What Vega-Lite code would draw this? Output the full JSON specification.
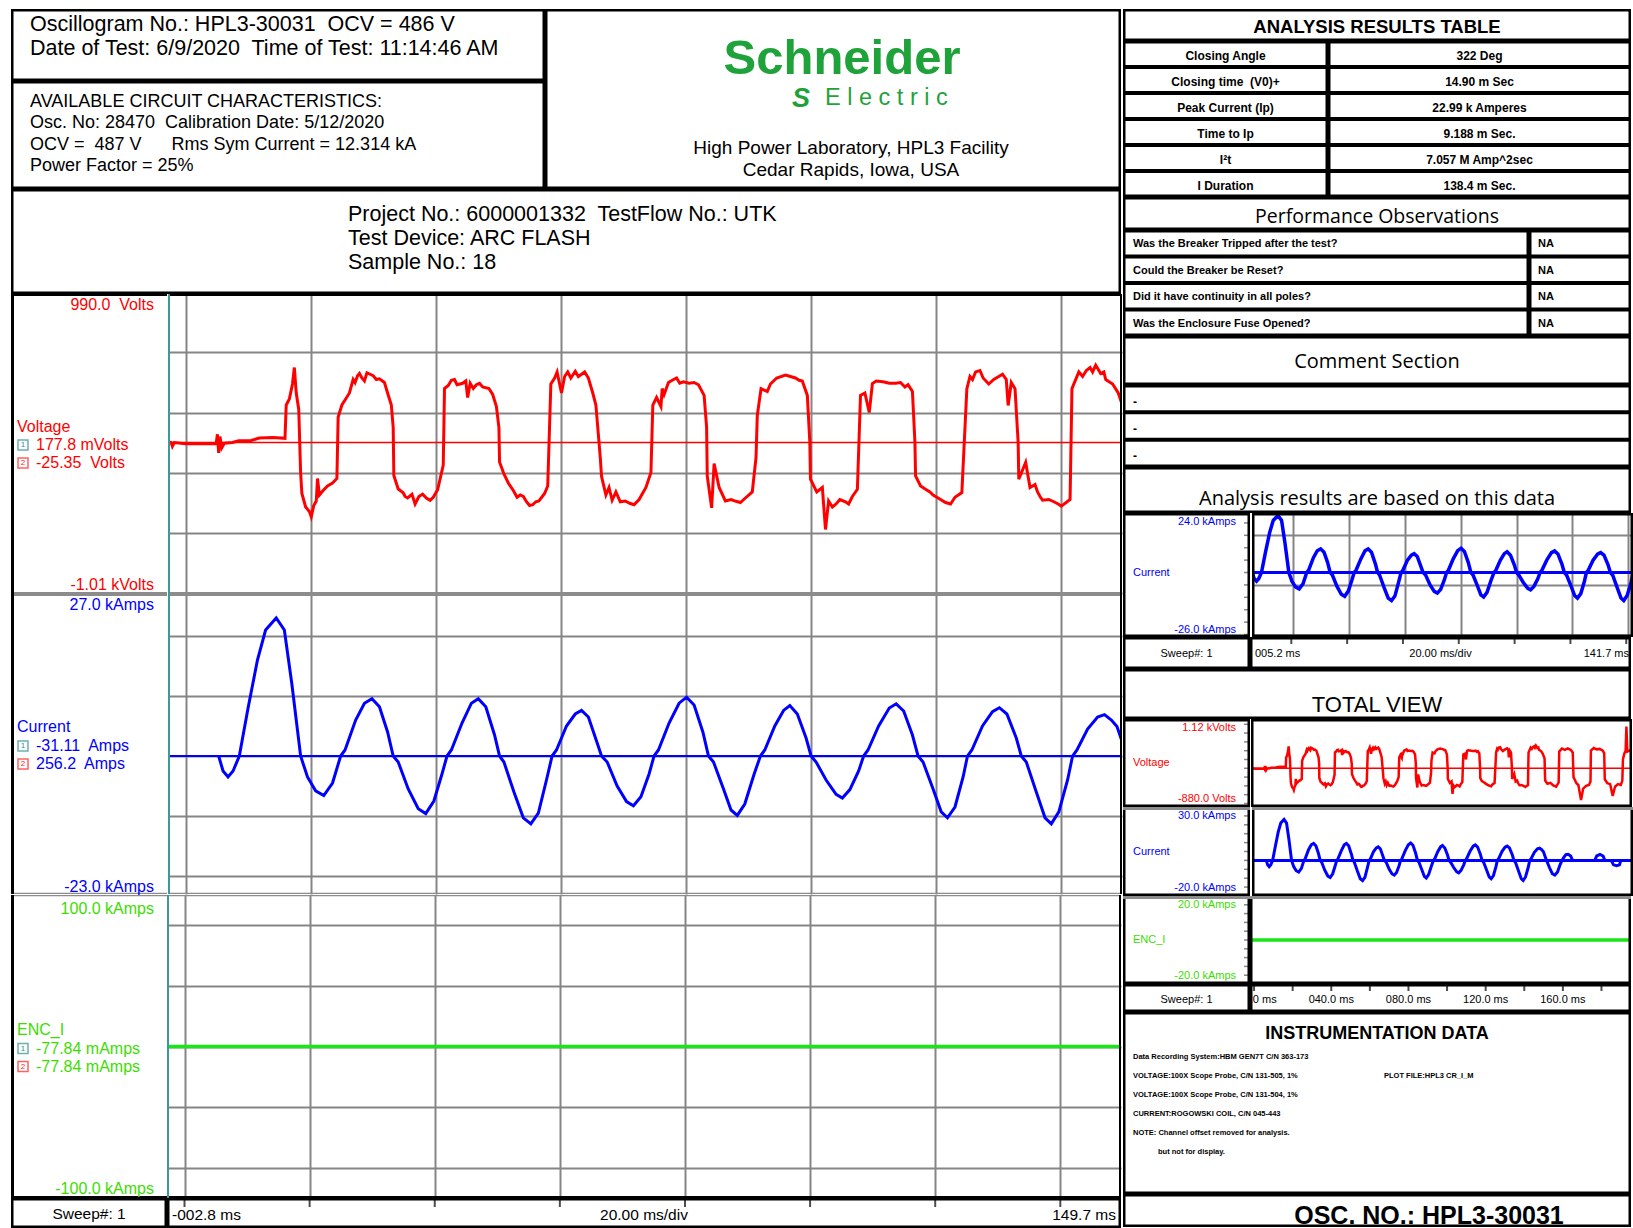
{
"$schema": "https://vega.github.io/schema/vega-lite/v6.json",
"background": "white",
"padding": {"left": 11, "top": 9, "right": 0, "bottom": 0},
"spacing": 0,
"config": {
  "view": {"stroke": null},
  "font": "Liberation Sans",
  "text": {"font": "Liberation Sans", "color": "black"}
},
"datasets": {
  "volt": [
    {"t":-2.8,"v":5},{"t":-2.3,"v":0},{"t":-2.1,"v":-25},{"t":-1.8,"v":0},{"t":0,"v":-8},{"t":2.5,"v":-8},{"t":4.9,"v":-8},{"t":5.1,"v":55},{"t":5.3,"v":-70},{"t":5.5,"v":40},{"t":5.8,"v":-35},{"t":6.2,"v":-5},{"t":7.5,"v":0},{"t":8.5,"v":12},{"t":10.5,"v":14},{"t":11.8,"v":30},{"t":14,"v":34},{"t":15.9,"v":28},{"t":16.1,"v":250},{"t":16.6,"v":290},{"t":17.1,"v":390},{"t":17.4,"v":500},{"t":17.7,"v":330},{"t":18.1,"v":220},{"t":18.4,"v":-200},{"t":18.6,"v":-340},{"t":19.2,"v":-430},{"t":19.8,"v":-460},{"t":20.1,"v":-495},{"t":20.5,"v":-420},{"t":20.9,"v":-390},{"t":21.1,"v":-240},{"t":21.4,"v":-350},{"t":22,"v":-320},{"t":22.7,"v":-290},{"t":23.5,"v":-270},{"t":24.2,"v":-240},{"t":24.4,"v":170},{"t":25,"v":250},{"t":25.6,"v":290},{"t":26.2,"v":330},{"t":26.8,"v":420},{"t":27.5,"v":445},{"t":28.2,"v":430},{"t":29,"v":465},{"t":30,"v":445},{"t":31,"v":425},{"t":31.8,"v":400},{"t":32.3,"v":330},{"t":32.9,"v":250},{"t":33.2,"v":100},{"t":33.3,"v":-220},{"t":34,"v":-310},{"t":34.8,"v":-335},{"t":35.5,"v":-370},{"t":36.2,"v":-345},{"t":36.7,"v":-410},{"t":37.3,"v":-360},{"t":38.5,"v":-370},{"t":39.6,"v":-365},{"t":40.3,"v":-315},{"t":41.2,"v":-150},{"t":41.4,"v":360},{"t":42.5,"v":415},{"t":43.4,"v":385},{"t":44.3,"v":395},{"t":45.1,"v":300},{"t":45.5,"v":395},{"t":46.5,"v":385},{"t":47.5,"v":370},{"t":48.5,"v":360},{"t":49.1,"v":320},{"t":49.7,"v":240},{"t":50.1,"v":100},{"t":50.2,"v":-130},{"t":50.9,"v":-210},{"t":51.6,"v":-270},{"t":52.4,"v":-320},{"t":53.5,"v":-350},{"t":54.5,"v":-395},{"t":55.5,"v":-415},{"t":56.5,"v":-390},{"t":57.4,"v":-340},{"t":57.9,"v":-290},{"t":58.4,"v":390},{"t":59.4,"v":470},{"t":60.1,"v":330},{"t":60.6,"v":440},{"t":61.6,"v":430},{"t":62.3,"v":475},{"t":63.3,"v":455},{"t":64.4,"v":430},{"t":65.1,"v":330},{"t":65.6,"v":250},{"t":66.3,"v":-100},{"t":66.5,"v":-225},{"t":67.2,"v":-350},{"t":67.7,"v":-300},{"t":68.2,"v":-385},{"t":68.8,"v":-330},{"t":69.5,"v":-395},{"t":71,"v":-405},{"t":72.5,"v":-380},{"t":73.6,"v":-300},{"t":74.4,"v":-200},{"t":74.7,"v":250},{"t":75.3,"v":300},{"t":76,"v":240},{"t":76.5,"v":320},{"t":77.8,"v":415},{"t":79,"v":395},{"t":80.5,"v":395},{"t":82,"v":385},{"t":82.9,"v":314},{"t":83.3,"v":100},{"t":83.4,"v":-223},{"t":84.1,"v":-436},{"t":84.5,"v":-140},{"t":85.3,"v":-300},{"t":86.3,"v":-390},{"t":88,"v":-392},{"t":89.5,"v":-370},{"t":90.6,"v":-330},{"t":91.2,"v":-100},{"t":91.4,"v":180},{"t":92,"v":359},{"t":93.5,"v":390},{"t":95.9,"v":450},{"t":97.5,"v":430},{"t":98.6,"v":410},{"t":99.4,"v":314},{"t":99.8,"v":0},{"t":99.9,"v":-245},{"t":100.9,"v":-330},{"t":101.8,"v":-300},{"t":102.3,"v":-580},{"t":102.8,"v":-390},{"t":104,"v":-410},{"t":105.5,"v":-395},{"t":106.6,"v":-360},{"t":107.4,"v":-312},{"t":107.9,"v":314},{"t":108.6,"v":330},{"t":109.3,"v":200},{"t":109.8,"v":393},{"t":111.5,"v":405},{"t":113.5,"v":395},{"t":115.5,"v":385},{"t":116.2,"v":340},{"t":116.6,"v":0},{"t":116.7,"v":-223},{"t":117.5,"v":-290},{"t":118.3,"v":-312},{"t":119.5,"v":-350},{"t":121.5,"v":-400},{"t":123,"v":-365},{"t":124.1,"v":-334},{"t":124.9,"v":359},{"t":125.8,"v":420},{"t":126.3,"v":471},{"t":127.5,"v":430},{"t":128.4,"v":390},{"t":130,"v":440},{"t":131.2,"v":420},{"t":131.5,"v":247},{"t":132,"v":400},{"t":132.6,"v":359},{"t":133.1,"v":0},{"t":133.2,"v":-245},{"t":134.3,"v":-133},{"t":135,"v":-300},{"t":135.8,"v":-280},{"t":136.6,"v":-360},{"t":138,"v":-380},{"t":139.5,"v":-410},{"t":140,"v":-424},{"t":141.4,"v":-380},{"t":141.7,"v":359},{"t":142.8,"v":471},{"t":144,"v":480},{"t":145.5,"v":515},{"t":146.3,"v":460},{"t":147.1,"v":420},{"t":148.2,"v":390},{"t":149.1,"v":330},{"t":150,"v":220},{"t":150.3,"v":-280},{"t":151.5,"v":-350},{"t":153,"v":-330},{"t":154.5,"v":-390},{"t":156,"v":-420},{"t":157.3,"v":-320},{"t":157.6,"v":380},{"t":159,"v":450},{"t":160.5,"v":420},{"t":162,"v":450},{"t":163.5,"v":420},{"t":164.6,"v":360},{"t":165,"v":-200},{"t":166.5,"v":-340},{"t":167.5,"v":-380},{"t":168.9,"v":-720},{"t":170,"v":-460},{"t":171.5,"v":-400},{"t":173,"v":-380},{"t":173.8,"v":-300},{"t":174,"v":400},{"t":175.5,"v":460},{"t":177,"v":430},{"t":178.5,"v":440},{"t":180.2,"v":400},{"t":180.9,"v":340},{"t":181.2,"v":-250},{"t":182.5,"v":-340},{"t":184,"v":-360},{"t":185.3,"v":-630},{"t":186.5,"v":-420},{"t":188,"v":-360},{"t":189.5,"v":-380},{"t":190.3,"v":-280},{"t":190.6,"v":200},{"t":191.3,"v":330},{"t":192,"v":400},{"t":192.4,"v":950},{"t":192.9,"v":380},{"t":194,"v":400},{"t":195.3,"v":420},
    {"t":27.1,"v":400},{"t":27.8,"v":460},{"t":28.6,"v":410},{"t":29.5,"v":455},{"t":30.5,"v":420},
    {"t":42.0,"v":380},{"t":43.0,"v":420},{"t":44.8,"v":410},{"t":46,"v":360},{"t":47,"v":395},
    {"t":59.0,"v":430},{"t":61.1,"v":470},{"t":62.8,"v":440},{"t":63.8,"v":470},
    {"t":76.2,"v":360},{"t":77.2,"v":400},{"t":78.5,"v":430},{"t":79.6,"v":405},{"t":81.3,"v":400},
    {"t":93,"v":340},{"t":94.5,"v":430},{"t":96.7,"v":440},{"t":98.1,"v":415},
    {"t":110.4,"v":410},{"t":112.5,"v":395},{"t":114.3,"v":400},{"t":115,"v":370},
    {"t":125.4,"v":440},{"t":127,"v":480},{"t":129.2,"v":420},{"t":130.6,"v":455},
    {"t":143.4,"v":440},{"t":144.6,"v":500},{"t":145,"v":470},{"t":146.8,"v":470},
    {"t":35.1,"v":-360},{"t":37.9,"v":-345},{"t":39.1,"v":-385},
    {"t":53,"v":-365},{"t":54,"v":-360},{"t":55,"v":-420},{"t":56,"v":-395},
    {"t":70.3,"v":-390},{"t":71.7,"v":-415},
    {"t":87.2,"v":-380},{"t":88.7,"v":-400},
    {"t":103.4,"v":-430},{"t":104.6,"v":-380},{"t":106,"v":-410},
    {"t":119,"v":-330},{"t":120.3,"v":-370},{"t":122.3,"v":-410},
    {"t":136.2,"v":-330},{"t":137,"v":-385},{"t":138.8,"v":-395}
  ],
  "curr": [
    {"t":5.3,"i":0},{"t":6.0,"i":-2.5},{"t":6.8,"i":-3.5},{"t":7.6,"i":-2.5},{"t":8.6,"i":0},{"t":10.0,"i":8},{"t":11.5,"i":16},{"t":12.8,"i":21},{"t":14.5,"i":23.0},{"t":15.8,"i":21},{"t":17.0,"i":12},{"t":18.4,"i":0},{"t":19.5,"i":-3.5},{"t":20.8,"i":-5.8},{"t":22.1,"i":-6.6},{"t":23.5,"i":-4.5},{"t":24.8,"i":0},{"t":25.5,"i":1},{"t":27.2,"i":6},{"t":28.6,"i":8.8},{"t":29.8,"i":9.55},{"t":31.0,"i":8.2},{"t":32.3,"i":4},{"t":33.2,"i":0},{"t":34.0,"i":-1},{"t":35.6,"i":-5.5},{"t":37.2,"i":-8.8},{"t":38.4,"i":-9.6},{"t":39.7,"i":-7.5},{"t":41.0,"i":-3},{"t":41.8,"i":0},{"t":42.5,"i":1},{"t":44.2,"i":5.5},{"t":45.7,"i":8.8},{"t":46.8,"i":9.55},{"t":48.0,"i":8.2},{"t":49.4,"i":3.5},{"t":50.2,"i":0},{"t":50.9,"i":-1},{"t":52.5,"i":-6},{"t":54.0,"i":-10.3},{"t":55.2,"i":-11.3},{"t":56.4,"i":-9.5},{"t":57.7,"i":-4},{"t":58.6,"i":0},{"t":59.3,"i":1},{"t":60.9,"i":5},{"t":62.3,"i":7},{"t":63.3,"i":7.6},{"t":64.4,"i":6.5},{"t":65.7,"i":2.5},{"t":66.5,"i":0},{"t":67.4,"i":-1},{"t":69.0,"i":-5},{"t":70.5,"i":-7.6},{"t":71.6,"i":-8.3},{"t":72.8,"i":-6.8},{"t":74.1,"i":-3},{"t":74.9,"i":0},{"t":75.6,"i":1},{"t":77.3,"i":5.5},{"t":78.9,"i":8.8},{"t":80.1,"i":9.8},{"t":81.3,"i":8.5},{"t":82.7,"i":4},{"t":83.6,"i":0},{"t":84.4,"i":-1},{"t":86.0,"i":-5.5},{"t":87.2,"i":-9},{"t":88.2,"i":-9.9},{"t":89.4,"i":-8},{"t":90.9,"i":-3},{"t":91.9,"i":0},{"t":92.6,"i":1},{"t":94.2,"i":5},{"t":95.6,"i":7.6},{"t":96.6,"i":8.4},{"t":97.8,"i":7},{"t":99.2,"i":3},{"t":100.0,"i":0},{"t":100.8,"i":-1},{"t":102.4,"i":-4},{"t":104.0,"i":-6.4},{"t":105.0,"i":-7.0},{"t":106.2,"i":-5.6},{"t":107.6,"i":-2.5},{"t":108.4,"i":0},{"t":109.1,"i":1},{"t":110.8,"i":5},{"t":112.5,"i":8},{"t":113.6,"i":8.7},{"t":114.8,"i":7.5},{"t":116.2,"i":3.5},{"t":117.1,"i":0},{"t":117.9,"i":-1},{"t":119.5,"i":-5.5},{"t":120.8,"i":-9.3},{"t":121.8,"i":-10.3},{"t":123.0,"i":-8.5},{"t":124.3,"i":-3.5},{"t":125.0,"i":0},{"t":125.7,"i":1},{"t":127.4,"i":5},{"t":129.0,"i":7.4},{"t":130.1,"i":8.05},{"t":131.3,"i":7},{"t":132.8,"i":3},{"t":133.6,"i":0},{"t":134.4,"i":-1},{"t":136.0,"i":-6},{"t":137.4,"i":-10.3},{"t":138.4,"i":-11.3},{"t":139.6,"i":-9.3},{"t":141.0,"i":-4},{"t":141.8,"i":0},{"t":142.5,"i":1},{"t":144.2,"i":4.5},{"t":145.8,"i":6.5},{"t":146.9,"i":6.9},{"t":148.0,"i":6},{"t":148.9,"i":4.9},{"t":150.5,"i":0},{"t":152,"i":-4},{"t":153.5,"i":-7.5},{"t":154.8,"i":-8.3},{"t":156.2,"i":-6.5},{"t":157.5,"i":-2.5},{"t":158.5,"i":0},{"t":159.3,"i":1.5},{"t":160.5,"i":3.2},{"t":161.7,"i":3.4},{"t":163,"i":2.5},{"t":164,"i":0},{"t":175.5,"i":0},{"t":176.5,"i":2.5},{"t":178.2,"i":3.4},{"t":179.8,"i":2.5},{"t":180.7,"i":0},{"t":184,"i":0},{"t":185.2,"i":-2.5},{"t":186.8,"i":-3},{"t":188.3,"i":-2.5},{"t":189,"i":0},{"t":195.3,"i":0}
  ],
  "enc": [{"t":-2.8,"i":-0.00008},{"t":195.3,"i":-0.00008}],
  "results": [
    {"r":1,"k":"Closing Angle","v":"322 Deg"},
    {"r":2,"k":"Closing time\u00a0 (V0)+","v":"14.90 m Sec"},
    {"r":3,"k":"Peak Current (Ip)","v":"22.99 k Amperes"},
    {"r":4,"k":"Time to Ip","v":"9.188 m Sec."},
    {"r":5,"k":"I²t","v":"7.057 M Amp^2sec"},
    {"r":6,"k":"I Duration","v":"138.4 m Sec."}
  ],
  "questions": [
    {"r":1,"q":"Was the Breaker Tripped after the test?","a":"NA"},
    {"r":2,"q":"Could the Breaker be Reset?","a":"NA"},
    {"r":3,"q":"Did it have continuity in all poles?","a":"NA"},
    {"r":4,"q":"Was the Enclosure Fuse Opened?","a":"NA"}
  ],
  "comments": [{"r":1,"c":"-"},{"r":2,"c":"-"},{"r":3,"c":"-"}]
},
"hconcat": [
 {"vconcat": [
   {"hconcat": [
     {"vconcat": [
       {"width": 534, "height": 72,
        "layer": [
          {"data": {"values": [{}]}, "mark": {"type": "rect", "filled": false, "stroke": "black", "strokeWidth": 5, "clip": true}, "encoding": {"x": {"value": 0}, "x2": {"value": "width"}, "y": {"value": 0}, "y2": {"value": "height"}}},
          {"data": {"values": [{"line": 1, "t": "Oscillogram No.: HPL3-30031\u00a0 OCV = 486 V"}, {"line": 2, "t": "Date of Test: 6/9/2020\u00a0 Time of Test: 11:14:46 AM"}]},
           "mark": {"type": "text", "align": "left", "baseline": "middle", "fontSize": 21.5},
           "encoding": {"x": {"value": 19}, "y": {"field": "line", "type": "ordinal", "scale": {"type": "point", "range": [16, 40], "padding": 0}, "axis": null}, "text": {"field": "t"}}}
        ]},
       {"width": 534, "height": 108,
        "layer": [
          {"data": {"values": [{}]}, "mark": {"type": "rect", "filled": false, "stroke": "black", "strokeWidth": 5, "clip": true}, "encoding": {"x": {"value": 0}, "x2": {"value": "width"}, "y": {"value": 0}, "y2": {"value": "height"}}},
          {"data": {"values": [{"line": 1, "t": "AVAILABLE CIRCUIT CHARACTERISTICS:"}, {"line": 2, "t": "Osc. No: 28470\u00a0 Calibration Date: 5/12/2020"}, {"line": 3, "t": "OCV =\u00a0 487 V\u00a0\u00a0\u00a0\u00a0\u00a0 Rms Sym Current = 12.314 kA"}, {"line": 4, "t": "Power Factor = 25%"}]},
           "mark": {"type": "text", "align": "left", "baseline": "middle", "fontSize": 18},
           "encoding": {"x": {"value": 19}, "y": {"field": "line", "type": "ordinal", "scale": {"type": "point", "range": [21, 85], "padding": 0}, "axis": null}, "text": {"field": "t"}}}
        ]}
     ], "spacing": 0},
     {"width": 576, "height": 180,
      "layer": [
        {"data": {"values": [{}]}, "mark": {"type": "rect", "filled": false, "stroke": "black", "strokeWidth": 5, "clip": true}, "encoding": {"x": {"value": 0}, "x2": {"value": "width"}, "y": {"value": 0}, "y2": {"value": "height"}}},
        {"data": {"values": [{"t": "Schneider"}]}, "mark": {"type": "text", "fontSize": 49, "fontWeight": "bold", "color": "#1fa23a", "baseline": "middle"}, "encoding": {"x": {"value": 297}, "y": {"value": 50}, "text": {"field": "t"}}},
        {"data": {"values": [{"t": "S"}]}, "mark": {"type": "text", "fontSize": 27, "fontWeight": "bold", "fontStyle": "italic", "color": "#1fa23a", "baseline": "middle"}, "encoding": {"x": {"value": 256}, "y": {"value": 90}, "text": {"field": "t"}}},
        {"data": {"values": [{"t": "E l e c t r i c"}]}, "mark": {"type": "text", "fontSize": 23.5, "color": "#1fa23a", "align": "left", "baseline": "middle"}, "encoding": {"x": {"value": 280}, "y": {"value": 89}, "text": {"field": "t"}}},
        {"data": {"values": [{"line": 1, "t": "High Power Laboratory, HPL3 Facility"}, {"line": 2, "t": "Cedar Rapids, Iowa, USA"}]}, "mark": {"type": "text", "fontSize": 19, "baseline": "middle"}, "encoding": {"x": {"value": 306}, "y": {"field": "line", "type": "ordinal", "scale": {"type": "point", "range": [139, 161], "padding": 0}, "axis": null}, "text": {"field": "t"}}}
      ]}
   ], "spacing": 0},
   {"width": 1110, "height": 105,
    "layer": [
      {"data": {"values": [{}]}, "mark": {"type": "rect", "filled": false, "stroke": "black", "strokeWidth": 5, "clip": true}, "encoding": {"x": {"value": 0}, "x2": {"value": "width"}, "y": {"value": 0}, "y2": {"value": "height"}}},
      {"data": {"values": [{"line": 1, "t": "Project No.: 6000001332\u00a0 TestFlow No.: UTK"}, {"line": 2, "t": "Test Device: ARC FLASH"}, {"line": 3, "t": "Sample No.: 18"}]},
       "mark": {"type": "text", "align": "left", "baseline": "middle", "fontSize": 21.5},
       "encoding": {"x": {"value": 337}, "y": {"field": "line", "type": "ordinal", "scale": {"type": "point", "range": [25.5, 73.5], "padding": 0}, "axis": null}, "text": {"field": "t"}}}
    ]},
   {"hconcat": [
     {"width": 156, "height": 300,
      "data": {"values": [{"top": "990.0\u00a0 Volts", "bot": "-1.01 kVolts", "name": "Voltage", "m1": "177.8 mVolts", "m2": "-25.35\u00a0 Volts"}]},
      "layer": [
        {"mark": {"type": "rule", "color": "#8c8c8c", "strokeWidth": 4, "clip": true}, "encoding": {"y": {"datum": -1010, "type": "quantitative", "scale": {"domain": [-1010, 990], "nice": false, "zero": false}, "axis": null}}},
        {"mark": {"type": "rule", "color": "black", "strokeWidth": 4, "clip": true}, "encoding": {"y": {"datum": 990}}},
        {"mark": {"type": "rule", "color": "black", "strokeWidth": 6, "clip": true}, "encoding": {"x": {"value": 0}, "y": {"value": 0}, "y2": {"value": "height"}}},
        {"mark": {"type": "text", "align": "right", "baseline": "top", "dy": 3, "fontSize": 16, "color": "#ff0000"}, "encoding": {"x": {"value": 143}, "y": {"datum": 990}, "text": {"field": "top"}}},
        {"mark": {"type": "text", "align": "right", "baseline": "bottom", "dy": -1, "fontSize": 16, "color": "#ff0000"}, "encoding": {"x": {"value": 143}, "y": {"datum": -1010}, "text": {"field": "bot"}}},
        {"mark": {"type": "text", "align": "left", "baseline": "middle", "dy": -17, "fontSize": 16, "color": "#ff0000"}, "encoding": {"x": {"value": 6}, "y": {"datum": -10}, "text": {"field": "name"}}},
        {"mark": {"type": "text", "align": "left", "baseline": "middle", "dy": 1, "fontSize": 16, "color": "#ff0000"}, "encoding": {"x": {"value": 25}, "y": {"datum": -10}, "text": {"field": "m1"}}},
        {"mark": {"type": "text", "align": "left", "baseline": "middle", "dy": 19, "fontSize": 16, "color": "#ff0000"}, "encoding": {"x": {"value": 25}, "y": {"datum": -10}, "text": {"field": "m2"}}},
        {"mark": {"type": "point", "shape": "square", "filled": false, "size": 100, "strokeWidth": 1.5, "color": "#2f8f8f", "yOffset": 1}, "encoding": {"x": {"value": 12}, "y": {"datum": -10}}},
        {"mark": {"type": "point", "shape": "square", "filled": false, "size": 100, "strokeWidth": 1.5, "color": "#ff2020", "yOffset": 19}, "encoding": {"x": {"value": 12}, "y": {"datum": -10}}},
        {"mark": {"type": "text", "fontSize": 8, "color": "#2f8f8f", "baseline": "middle", "yOffset": 1}, "encoding": {"x": {"value": 12}, "y": {"datum": -10}, "text": {"value": "1"}}},
        {"mark": {"type": "text", "fontSize": 8, "color": "#ff2020", "baseline": "middle", "yOffset": 19}, "encoding": {"x": {"value": 12}, "y": {"datum": -10}, "text": {"value": "2"}}}
      ]},
     {"width": 954, "height": 300,
      "layer": [
        {"data": {"name": "volt"}, "mark": {"type": "line", "color": "#ff0000", "strokeWidth": 3, "clip": true},
         "encoding": {
           "x": {"field": "t", "type": "quantitative", "scale": {"domain": [-2.8, 149.7], "nice": false, "zero": false}, "axis": {"values": [0,20,40,60,80,100,120,140], "grid": true, "gridColor": "#858585", "gridWidth": 2, "labels": false, "ticks": false, "domain": false, "title": null}},
           "y": {"field": "v", "type": "quantitative", "scale": {"domain": [-1010, 990], "nice": false, "zero": false}, "axis": {"values": [-1000,-800,-600,-400,-200,0,200,400,600,800], "grid": true, "gridColor": "#858585", "gridWidth": 2, "labels": false, "ticks": false, "domain": false, "title": null}}}},
        {"data": {"values": [{}]}, "mark": {"type": "rule", "color": "#ff0000", "strokeWidth": 1.5}, "encoding": {"y": {"datum": 0}}},
        {"data": {"values": [{}]}, "mark": {"type": "rule", "color": "#8c8c8c", "strokeWidth": 4, "clip": true}, "encoding": {"y": {"datum": -1010}}},
        {"data": {"values": [{}]}, "mark": {"type": "rule", "color": "black", "strokeWidth": 4, "clip": true}, "encoding": {"y": {"datum": 990}}},
        {"data": {"values": [{}]}, "mark": {"type": "rule", "color": "#3a9a9a", "strokeWidth": 4, "clip": true}, "encoding": {"x": {"value": 0}, "y": {"value": 0}, "y2": {"value": "height"}}},
        {"data": {"values": [{}]}, "mark": {"type": "rule", "color": "black", "strokeWidth": 4, "clip": true}, "encoding": {"x": {"value": "width"}, "y": {"value": 0}, "y2": {"value": "height"}}}
      ]}
   ], "spacing": 0},
   {"hconcat": [
     {"width": 156, "height": 300,
      "data": {"values": [{"top": "27.0 kAmps", "bot": "-23.0 kAmps", "name": "Current", "m1": "-31.11\u00a0 Amps", "m2": "256.2\u00a0 Amps"}]},
      "layer": [
        {"mark": {"type": "rule", "color": "#8c8c8c", "strokeWidth": 4, "clip": true}, "encoding": {"y": {"datum": 27, "type": "quantitative", "scale": {"domain": [-23, 27], "nice": false, "zero": false}, "axis": null}}},
        {"mark": {"type": "rule", "color": "#8c8c8c", "strokeWidth": 2.5, "clip": true}, "encoding": {"y": {"datum": -23}}},
        {"mark": {"type": "rule", "color": "black", "strokeWidth": 6, "clip": true}, "encoding": {"x": {"value": 0}, "y": {"value": 0}, "y2": {"value": "height"}}},
        {"mark": {"type": "text", "align": "right", "baseline": "top", "dy": 3, "fontSize": 16, "color": "#0000ff"}, "encoding": {"x": {"value": 143}, "y": {"datum": 27}, "text": {"field": "top"}}},
        {"mark": {"type": "text", "align": "right", "baseline": "bottom", "dy": 1, "fontSize": 16, "color": "#0000ff"}, "encoding": {"x": {"value": 143}, "y": {"datum": -23}, "text": {"field": "bot"}}},
        {"mark": {"type": "text", "align": "left", "baseline": "middle", "dy": -17, "fontSize": 16, "color": "#0000ff"}, "encoding": {"x": {"value": 6}, "y": {"datum": 2}, "text": {"field": "name"}}},
        {"mark": {"type": "text", "align": "left", "baseline": "middle", "dy": 2, "fontSize": 16, "color": "#0000ff"}, "encoding": {"x": {"value": 25}, "y": {"datum": 2}, "text": {"field": "m1"}}},
        {"mark": {"type": "text", "align": "left", "baseline": "middle", "dy": 20, "fontSize": 16, "color": "#0000ff"}, "encoding": {"x": {"value": 25}, "y": {"datum": 2}, "text": {"field": "m2"}}},
        {"mark": {"type": "point", "shape": "square", "filled": false, "size": 100, "strokeWidth": 1.5, "color": "#2f8f8f", "yOffset": 2}, "encoding": {"x": {"value": 12}, "y": {"datum": 2}}},
        {"mark": {"type": "point", "shape": "square", "filled": false, "size": 100, "strokeWidth": 1.5, "color": "#ff2020", "yOffset": 20}, "encoding": {"x": {"value": 12}, "y": {"datum": 2}}},
        {"mark": {"type": "text", "fontSize": 8, "color": "#2f8f8f", "baseline": "middle", "yOffset": 2}, "encoding": {"x": {"value": 12}, "y": {"datum": 2}, "text": {"value": "1"}}},
        {"mark": {"type": "text", "fontSize": 8, "color": "#ff2020", "baseline": "middle", "yOffset": 20}, "encoding": {"x": {"value": 12}, "y": {"datum": 2}, "text": {"value": "2"}}}
      ]},
     {"width": 954, "height": 300,
      "layer": [
        {"data": {"name": "curr"}, "mark": {"type": "line", "color": "#0000ff", "strokeWidth": 3, "clip": true},
         "encoding": {
           "x": {"field": "t", "type": "quantitative", "scale": {"domain": [-2.8, 149.7], "nice": false, "zero": false}, "axis": {"values": [0,20,40,60,80,100,120,140], "grid": true, "gridColor": "#858585", "gridWidth": 2, "labels": false, "ticks": false, "domain": false, "title": null}},
           "y": {"field": "i", "type": "quantitative", "scale": {"domain": [-23, 27], "nice": false, "zero": false}, "axis": {"values": [-20,-15,-10,-5,0,5,10,15,20,25], "grid": true, "gridColor": "#858585", "gridWidth": 2, "labels": false, "ticks": false, "domain": false, "title": null}}}},
        {"data": {"values": [{}]}, "mark": {"type": "rule", "color": "#0000ff", "strokeWidth": 2}, "encoding": {"y": {"datum": 0}}},
        {"data": {"values": [{}]}, "mark": {"type": "rule", "color": "#8c8c8c", "strokeWidth": 4, "clip": true}, "encoding": {"y": {"datum": 27}}},
        {"data": {"values": [{}]}, "mark": {"type": "rule", "color": "#8c8c8c", "strokeWidth": 2.5, "clip": true}, "encoding": {"y": {"datum": -23}}},
        {"data": {"values": [{}]}, "mark": {"type": "rule", "color": "#3a9a9a", "strokeWidth": 4, "clip": true}, "encoding": {"x": {"value": 0}, "y": {"value": 0}, "y2": {"value": "height"}}},
        {"data": {"values": [{}]}, "mark": {"type": "rule", "color": "black", "strokeWidth": 4, "clip": true}, "encoding": {"x": {"value": "width"}, "y": {"value": 0}, "y2": {"value": "height"}}}
      ]}
   ], "spacing": 0},
   {"hconcat": [
     {"width": 156, "height": 303,
      "data": {"values": [{"top": "100.0 kAmps", "bot": "-100.0 kAmps", "name": "ENC_I", "m1": "-77.84 mAmps", "m2": "-77.84 mAmps"}]},
      "layer": [
        {"mark": {"type": "rule", "color": "#8c8c8c", "strokeWidth": 2.5, "clip": true}, "encoding": {"y": {"datum": 100, "type": "quantitative", "scale": {"domain": [-100, 100], "nice": false, "zero": false}, "axis": null}}},
        {"mark": {"type": "rule", "color": "black", "strokeWidth": 4, "clip": true}, "encoding": {"y": {"datum": -100}}},
        {"mark": {"type": "rule", "color": "black", "strokeWidth": 6, "clip": true}, "encoding": {"x": {"value": 0}, "y": {"value": 0}, "y2": {"value": "height"}}},
        {"mark": {"type": "text", "align": "right", "baseline": "top", "dy": 6, "fontSize": 16, "color": "#3ddc00"}, "encoding": {"x": {"value": 143}, "y": {"datum": 100}, "text": {"field": "top"}}},
        {"mark": {"type": "text", "align": "right", "baseline": "bottom", "dy": -1, "fontSize": 16, "color": "#3ddc00"}, "encoding": {"x": {"value": 143}, "y": {"datum": -100}, "text": {"field": "bot"}}},
        {"mark": {"type": "text", "align": "left", "baseline": "middle", "dy": -17, "fontSize": 16, "color": "#3ddc00"}, "encoding": {"x": {"value": 6}, "y": {"datum": 0}, "text": {"field": "name"}}},
        {"mark": {"type": "text", "align": "left", "baseline": "middle", "dy": 2, "fontSize": 16, "color": "#3ddc00"}, "encoding": {"x": {"value": 25}, "y": {"datum": 0}, "text": {"field": "m1"}}},
        {"mark": {"type": "text", "align": "left", "baseline": "middle", "dy": 20, "fontSize": 16, "color": "#3ddc00"}, "encoding": {"x": {"value": 25}, "y": {"datum": 0}, "text": {"field": "m2"}}},
        {"mark": {"type": "point", "shape": "square", "filled": false, "size": 100, "strokeWidth": 1.5, "color": "#2f8f8f", "yOffset": 2}, "encoding": {"x": {"value": 12}, "y": {"datum": 0}}},
        {"mark": {"type": "point", "shape": "square", "filled": false, "size": 100, "strokeWidth": 1.5, "color": "#ff2020", "yOffset": 20}, "encoding": {"x": {"value": 12}, "y": {"datum": 0}}},
        {"mark": {"type": "text", "fontSize": 8, "color": "#2f8f8f", "baseline": "middle", "yOffset": 2}, "encoding": {"x": {"value": 12}, "y": {"datum": 0}, "text": {"value": "1"}}},
        {"mark": {"type": "text", "fontSize": 8, "color": "#ff2020", "baseline": "middle", "yOffset": 20}, "encoding": {"x": {"value": 12}, "y": {"datum": 0}, "text": {"value": "2"}}}
      ]},
     {"width": 954, "height": 303,
      "layer": [
        {"data": {"name": "enc"}, "mark": {"type": "line", "color": "#19e619", "strokeWidth": 3.5, "clip": true},
         "encoding": {
           "x": {"field": "t", "type": "quantitative", "scale": {"domain": [-2.8, 149.7], "nice": false, "zero": false}, "axis": {"values": [0,20,40,60,80,100,120,140], "grid": true, "gridColor": "#858585", "gridWidth": 2, "labels": false, "ticks": false, "domain": false, "title": null}},
           "y": {"field": "i", "type": "quantitative", "scale": {"domain": [-100, 100], "nice": false, "zero": false}, "axis": {"values": [-80,-60,-40,-20,0,20,40,60,80], "grid": true, "gridColor": "#858585", "gridWidth": 2, "labels": false, "ticks": false, "domain": false, "title": null}}}},
        {"data": {"values": [{}]}, "mark": {"type": "rule", "color": "#8c8c8c", "strokeWidth": 2.5, "clip": true}, "encoding": {"y": {"datum": 100}}},
        {"data": {"values": [{}]}, "mark": {"type": "rule", "color": "black", "strokeWidth": 4, "clip": true}, "encoding": {"y": {"datum": -100}}},
        {"data": {"values": [{}]}, "mark": {"type": "rule", "color": "#3a9a9a", "strokeWidth": 4, "clip": true}, "encoding": {"x": {"value": 0}, "y": {"value": 0}, "y2": {"value": "height"}}},
        {"data": {"values": [{}]}, "mark": {"type": "rule", "color": "black", "strokeWidth": 4, "clip": true}, "encoding": {"x": {"value": "width"}, "y": {"value": 0}, "y2": {"value": "height"}}}
      ]}
   ], "spacing": 0},
   {"hconcat": [
     {"width": 156, "height": 30,
      "layer": [
        {"data": {"values": [{}]}, "mark": {"type": "rect", "filled": false, "stroke": "black", "strokeWidth": 5, "clip": true}, "encoding": {"x": {"value": 0}, "x2": {"value": "width"}, "y": {"value": 0}, "y2": {"value": "height"}}},
        {"data": {"values": [{"s": "Sweep#: 1"}]}, "mark": {"type": "text", "fontSize": 15.5, "baseline": "middle", "dy": 1}, "encoding": {"text": {"field": "s"}}}
      ]},
     {"width": 954, "height": 30,
      "layer": [
        {"data": {"values": [{}]}, "mark": {"type": "rect", "filled": false, "stroke": "black", "strokeWidth": 5, "clip": true}, "encoding": {"x": {"value": 0}, "x2": {"value": "width"}, "y": {"value": 0}, "y2": {"value": "height"}}},
        {"data": {"values": [{"t": 0}, {"t": 20}, {"t": 40}, {"t": 60}, {"t": 80}, {"t": 100}, {"t": 120}, {"t": 140}]},
         "mark": {"type": "tick", "orient": "vertical", "size": 18, "thickness": 2, "color": "black", "clip": true},
         "encoding": {"x": {"field": "t", "type": "quantitative", "scale": {"domain": [-2.8, 149.7], "nice": false, "zero": false}, "axis": null}, "y": {"value": 0}}},
        {"data": {"values": [{"start": "-002.8 ms", "div": "20.00 ms/div", "end": "149.7 ms"}]},
         "layer": [
           {"mark": {"type": "text", "align": "left", "baseline": "middle", "fontSize": 15.5, "dx": 5, "dy": 2}, "encoding": {"x": {"datum": -2.8}, "text": {"field": "start"}}},
           {"mark": {"type": "text", "align": "center", "baseline": "middle", "fontSize": 15.5, "dy": 2}, "encoding": {"x": {"datum": 73.45}, "text": {"field": "div"}}},
           {"mark": {"type": "text", "align": "right", "baseline": "middle", "fontSize": 15.5, "dx": -5, "dy": 2}, "encoding": {"x": {"datum": 149.7}, "text": {"field": "end"}}}
         ]}
      ]}
   ], "spacing": 0}
 ], "spacing": 0},
 {"vconcat": [
   {"width": 508, "height": 32,
    "layer": [
      {"data": {"values": [{}]}, "mark": {"type": "rect", "filled": false, "stroke": "black", "strokeWidth": 5, "clip": true}, "encoding": {"x": {"value": 0}, "x2": {"value": "width"}, "y": {"value": 0}, "y2": {"value": "height"}}},
      {"data": {"values": [{"t": "ANALYSIS RESULTS TABLE"}]}, "mark": {"type": "text", "fontSize": 18.5, "fontWeight": "bold", "baseline": "middle", "dy": 2}, "encoding": {"text": {"field": "t"}}}
    ]},
   {"hconcat": [
     {"width": 205, "height": 156, "data": {"name": "results"},
      "layer": [
        {"mark": {"type": "rule", "color": "black", "strokeWidth": 4, "clip": true}, "encoding": {"y": {"field": "r", "type": "ordinal", "bandPosition": 1, "scale": {"type": "band", "paddingInner": 0, "paddingOuter": 0}, "axis": null}}},
        {"mark": {"type": "text", "fontSize": 12, "fontWeight": "bold", "baseline": "middle", "dy": 2}, "encoding": {"y": {"field": "r", "type": "ordinal", "bandPosition": 0.5, "axis": null}, "text": {"field": "k"}}},
        {"data": {"values": [{}]}, "mark": {"type": "rect", "filled": false, "stroke": "black", "strokeWidth": 5, "clip": true}, "encoding": {"x": {"value": 0}, "x2": {"value": "width"}, "y": {"value": 0}, "y2": {"value": "height"}}}
      ]},
     {"width": 303, "height": 156, "data": {"name": "results"},
      "layer": [
        {"mark": {"type": "rule", "color": "black", "strokeWidth": 4, "clip": true}, "encoding": {"y": {"field": "r", "type": "ordinal", "bandPosition": 1, "scale": {"type": "band", "paddingInner": 0, "paddingOuter": 0}, "axis": null}}},
        {"mark": {"type": "text", "fontSize": 12, "fontWeight": "bold", "baseline": "middle", "dy": 2}, "encoding": {"y": {"field": "r", "type": "ordinal", "bandPosition": 0.5, "axis": null}, "text": {"field": "v"}}},
        {"data": {"values": [{}]}, "mark": {"type": "rect", "filled": false, "stroke": "black", "strokeWidth": 5, "clip": true}, "encoding": {"x": {"value": 0}, "x2": {"value": "width"}, "y": {"value": 0}, "y2": {"value": "height"}}}
      ]}
   ], "spacing": 0},
   {"width": 508, "height": 33,
    "layer": [
      {"data": {"values": [{}]}, "mark": {"type": "rect", "filled": false, "stroke": "black", "strokeWidth": 5, "clip": true}, "encoding": {"x": {"value": 0}, "x2": {"value": "width"}, "y": {"value": 0}, "y2": {"value": "height"}}},
      {"data": {"values": [{"t": "Performance Observations"}]}, "mark": {"type": "text", "font": "Open Sans", "fontSize": 19.5, "baseline": "middle", "dy": 3}, "encoding": {"text": {"field": "t"}}}
    ]},
   {"hconcat": [
     {"width": 406, "height": 106, "data": {"name": "questions"},
      "layer": [
        {"mark": {"type": "rule", "color": "black", "strokeWidth": 4, "clip": true}, "encoding": {"y": {"field": "r", "type": "ordinal", "bandPosition": 1, "scale": {"type": "band", "paddingInner": 0, "paddingOuter": 0}, "axis": null}}},
        {"mark": {"type": "text", "fontSize": 11, "fontWeight": "bold", "align": "left", "baseline": "middle", "dy": 1}, "encoding": {"x": {"value": 10}, "y": {"field": "r", "type": "ordinal", "bandPosition": 0.5, "axis": null}, "text": {"field": "q"}}},
        {"data": {"values": [{}]}, "mark": {"type": "rect", "filled": false, "stroke": "black", "strokeWidth": 5, "clip": true}, "encoding": {"x": {"value": 0}, "x2": {"value": "width"}, "y": {"value": 0}, "y2": {"value": "height"}}}
      ]},
     {"width": 102, "height": 106, "data": {"name": "questions"},
      "layer": [
        {"mark": {"type": "rule", "color": "black", "strokeWidth": 4, "clip": true}, "encoding": {"y": {"field": "r", "type": "ordinal", "bandPosition": 1, "scale": {"type": "band", "paddingInner": 0, "paddingOuter": 0}, "axis": null}}},
        {"mark": {"type": "text", "fontSize": 11, "fontWeight": "bold", "align": "left", "baseline": "middle", "dy": 1}, "encoding": {"x": {"value": 9}, "y": {"field": "r", "type": "ordinal", "bandPosition": 0.5, "axis": null}, "text": {"field": "a"}}},
        {"data": {"values": [{}]}, "mark": {"type": "rect", "filled": false, "stroke": "black", "strokeWidth": 5, "clip": true}, "encoding": {"x": {"value": 0}, "x2": {"value": "width"}, "y": {"value": 0}, "y2": {"value": "height"}}}
      ]}
   ], "spacing": 0},
   {"width": 508, "height": 49,
    "layer": [
      {"data": {"values": [{}]}, "mark": {"type": "rect", "filled": false, "stroke": "black", "strokeWidth": 5, "clip": true}, "encoding": {"x": {"value": 0}, "x2": {"value": "width"}, "y": {"value": 0}, "y2": {"value": "height"}}},
      {"data": {"values": [{"t": "Comment Section"}]}, "mark": {"type": "text", "font": "Open Sans", "fontSize": 20, "baseline": "middle", "dy": 1}, "encoding": {"text": {"field": "t"}}}
    ]},
   {"width": 508, "height": 82, "data": {"name": "comments"},
    "layer": [
      {"mark": {"type": "rule", "color": "black", "strokeWidth": 4, "clip": true}, "encoding": {"y": {"field": "r", "type": "ordinal", "bandPosition": 1, "scale": {"type": "band", "paddingInner": 0, "paddingOuter": 0}, "axis": null}}},
      {"mark": {"type": "text", "fontSize": 12, "fontWeight": "bold", "align": "left", "baseline": "middle", "dy": 3}, "encoding": {"x": {"value": 10}, "y": {"field": "r", "type": "ordinal", "bandPosition": 0.5, "axis": null}, "text": {"field": "c"}}},
      {"data": {"values": [{}]}, "mark": {"type": "rect", "filled": false, "stroke": "black", "strokeWidth": 5, "clip": true}, "encoding": {"x": {"value": 0}, "x2": {"value": "width"}, "y": {"value": 0}, "y2": {"value": "height"}}}
    ]},
   {"width": 508, "height": 46,
    "layer": [
      {"data": {"values": [{}]}, "mark": {"type": "rect", "filled": false, "stroke": "black", "strokeWidth": 5, "clip": true}, "encoding": {"x": {"value": 0}, "x2": {"value": "width"}, "y": {"value": 0}, "y2": {"value": "height"}}},
      {"data": {"values": [{"t": "Analysis results are based on this data"}]}, "mark": {"type": "text", "font": "Open Sans", "fontSize": 20, "baseline": "middle", "dy": 9}, "encoding": {"text": {"field": "t"}}}
    ]},
   {"hconcat": [
     {"width": 127, "height": 124,
      "data": {"values": [{"top": "24.0 kAmps", "bot": "-26.0 kAmps", "name": "Current"}]},
      "layer": [
        {"mark": {"type": "text", "align": "right", "baseline": "top", "dy": 3, "fontSize": 11, "color": "#0000ff"}, "encoding": {"x": {"value": 113}, "y": {"datum": 24, "type": "quantitative", "scale": {"domain": [-26, 24], "nice": false, "zero": false}, "axis": null}, "text": {"field": "top"}}},
        {"mark": {"type": "text", "align": "right", "baseline": "bottom", "dy": -2, "fontSize": 11, "color": "#0000ff"}, "encoding": {"x": {"value": 113}, "y": {"datum": -26}, "text": {"field": "bot"}}},
        {"mark": {"type": "text", "align": "left", "baseline": "middle", "fontSize": 11, "color": "#0000ff"}, "encoding": {"x": {"value": 10}, "y": {"datum": 0}, "text": {"field": "name"}}},
        {"data": {"values": [{"v": -25}, {"v": -20}, {"v": -15}, {"v": -10}, {"v": -5}, {"v": 0}, {"v": 5}, {"v": 10}, {"v": 15}, {"v": 20}]},
         "mark": {"type": "tick", "orient": "horizontal", "size": 12, "thickness": 1.5, "color": "#555555", "clip": true},
         "encoding": {"y": {"field": "v", "type": "quantitative"}, "x": {"value": "width"}}},
        {"data": {"values": [{}]}, "mark": {"type": "rect", "filled": false, "stroke": "black", "strokeWidth": 5, "clip": true}, "encoding": {"x": {"value": 0}, "x2": {"value": "width"}, "y": {"value": 0}, "y2": {"value": "height"}}}
      ]},
     {"width": 381, "height": 124,
      "layer": [
        {"data": {"name": "curr"}, "mark": {"type": "line", "color": "#0000ff", "strokeWidth": 3.5, "clip": true},
         "encoding": {
           "x": {"field": "t", "type": "quantitative", "scale": {"domain": [5.2, 141.7], "nice": false, "zero": false}, "axis": {"values": [20,40,60,80,100,120,140], "grid": true, "gridColor": "#858585", "gridWidth": 2, "labels": false, "ticks": false, "domain": false, "title": null}},
           "y": {"field": "i", "type": "quantitative", "scale": {"domain": [-26, 24], "nice": false, "zero": false}, "axis": {"values": [-25,-20,-15,-10,-5,0,5,10,15,20], "grid": true, "gridColor": "#858585", "gridWidth": 2, "labels": false, "ticks": false, "domain": false, "title": null}}}},
        {"data": {"values": [{}]}, "mark": {"type": "rule", "color": "#0000ff", "strokeWidth": 3}, "encoding": {"y": {"datum": 0}}},
        {"data": {"values": [{}]}, "mark": {"type": "rect", "filled": false, "stroke": "black", "strokeWidth": 5, "clip": true}, "encoding": {"x": {"value": 0}, "x2": {"value": "width"}, "y": {"value": 0}, "y2": {"value": "height"}}}
      ]}
   ], "spacing": 0},
   {"hconcat": [
     {"width": 127, "height": 32,
      "layer": [
        {"data": {"values": [{}]}, "mark": {"type": "rect", "filled": false, "stroke": "black", "strokeWidth": 5, "clip": true}, "encoding": {"x": {"value": 0}, "x2": {"value": "width"}, "y": {"value": 0}, "y2": {"value": "height"}}},
        {"data": {"values": [{"s": "Sweep#: 1"}]}, "mark": {"type": "text", "fontSize": 11, "baseline": "middle", "dy": 1}, "encoding": {"text": {"field": "s"}}}
      ]},
     {"width": 381, "height": 32,
      "layer": [
        {"data": {"values": [{}]}, "mark": {"type": "rect", "filled": false, "stroke": "black", "strokeWidth": 5, "clip": true}, "encoding": {"x": {"value": 0}, "x2": {"value": "width"}, "y": {"value": 0}, "y2": {"value": "height"}}},
        {"data": {"values": [{"t": 20}, {"t": 40}, {"t": 60}, {"t": 80}, {"t": 100}, {"t": 120}, {"t": 140}]},
         "mark": {"type": "tick", "orient": "vertical", "size": 14, "thickness": 2, "color": "black", "clip": true},
         "encoding": {"x": {"field": "t", "type": "quantitative", "scale": {"domain": [5.2, 141.7], "nice": false, "zero": false}, "axis": null}, "y": {"value": 0}}},
        {"data": {"values": [{"start": "005.2 ms", "div": "20.00 ms/div", "end": "141.7 ms"}]},
         "layer": [
           {"mark": {"type": "text", "align": "left", "baseline": "middle", "fontSize": 11, "dx": 5, "dy": 1}, "encoding": {"x": {"datum": 5.2}, "text": {"field": "start"}}},
           {"mark": {"type": "text", "align": "center", "baseline": "middle", "fontSize": 11, "dy": 1}, "encoding": {"x": {"datum": 73.45}, "text": {"field": "div"}}},
           {"mark": {"type": "text", "align": "right", "baseline": "middle", "fontSize": 11, "dx": -2, "dy": 1, "clip": true}, "encoding": {"x": {"datum": 141.7}, "text": {"field": "end"}}}
         ]}
      ]}
   ], "spacing": 0},
   {"width": 508, "height": 50,
    "layer": [
      {"data": {"values": [{}]}, "mark": {"type": "rect", "filled": false, "stroke": "black", "strokeWidth": 5, "clip": true}, "encoding": {"x": {"value": 0}, "x2": {"value": "width"}, "y": {"value": 0}, "y2": {"value": "height"}}},
      {"data": {"values": [{"t": "TOTAL VIEW"}]}, "mark": {"type": "text", "fontSize": 22, "baseline": "middle", "dy": 11}, "encoding": {"text": {"field": "t"}}}
    ]},
   {"hconcat": [
     {"width": 127, "height": 88,
      "data": {"values": [{"top": "1.12 kVolts", "bot": "-880.0 Volts", "name": "Voltage"}]},
      "layer": [
        {"mark": {"type": "text", "align": "right", "baseline": "top", "dy": 3, "fontSize": 11, "color": "#ff0000"}, "encoding": {"x": {"value": 113}, "y": {"datum": 1120, "type": "quantitative", "scale": {"domain": [-880, 1120], "nice": false, "zero": false}, "axis": null}, "text": {"field": "top"}}},
        {"mark": {"type": "text", "align": "right", "baseline": "bottom", "dy": -3, "fontSize": 11, "color": "#ff0000"}, "encoding": {"x": {"value": 113}, "y": {"datum": -880}, "text": {"field": "bot"}}},
        {"mark": {"type": "text", "align": "left", "baseline": "middle", "fontSize": 11, "color": "#ff0000"}, "encoding": {"x": {"value": 10}, "y": {"datum": 120}, "text": {"field": "name"}}},
        {"data": {"values": [{"v": -800}, {"v": -600}, {"v": -400}, {"v": -200}, {"v": 0}, {"v": 200}, {"v": 400}, {"v": 600}, {"v": 800}, {"v": 1000}]},
         "mark": {"type": "tick", "orient": "horizontal", "size": 12, "thickness": 1.5, "color": "#555555", "clip": true},
         "encoding": {"y": {"field": "v", "type": "quantitative"}, "x": {"value": "width"}}},
        {"data": {"values": [{}]}, "mark": {"type": "rect", "filled": false, "stroke": "black", "strokeWidth": 5, "clip": true}, "encoding": {"x": {"value": 0}, "x2": {"value": "width"}, "y": {"value": 0}, "y2": {"value": "height"}}}
      ]},
     {"width": 381, "height": 88,
      "layer": [
        {"data": {"name": "volt"}, "mark": {"type": "line", "color": "#ff0000", "strokeWidth": 2.5, "clip": true},
         "encoding": {
           "x": {"field": "t", "type": "quantitative", "scale": {"domain": [-2.1, 195.3], "nice": false, "zero": false}, "axis": null},
           "y": {"field": "v", "type": "quantitative", "scale": {"domain": [-880, 1120], "nice": false, "zero": false}, "axis": null}}},
        {"data": {"values": [{}]}, "mark": {"type": "rule", "color": "#ff0000", "strokeWidth": 1.5}, "encoding": {"y": {"datum": 0}}},
        {"data": {"values": [{}]}, "mark": {"type": "rect", "filled": false, "stroke": "black", "strokeWidth": 5, "clip": true}, "encoding": {"x": {"value": 0}, "x2": {"value": "width"}, "y": {"value": 0}, "y2": {"value": "height"}}}
      ]}
   ], "spacing": 0},
   {"hconcat": [
     {"width": 127, "height": 89,
      "data": {"values": [{"top": "30.0 kAmps", "bot": "-20.0 kAmps", "name": "Current"}]},
      "layer": [
        {"mark": {"type": "text", "align": "right", "baseline": "top", "dy": 3, "fontSize": 11, "color": "#0000ff"}, "encoding": {"x": {"value": 113}, "y": {"datum": 30, "type": "quantitative", "scale": {"domain": [-20, 30], "nice": false, "zero": false}, "axis": null}, "text": {"field": "top"}}},
        {"mark": {"type": "text", "align": "right", "baseline": "bottom", "dy": -3, "fontSize": 11, "color": "#0000ff"}, "encoding": {"x": {"value": 113}, "y": {"datum": -20}, "text": {"field": "bot"}}},
        {"mark": {"type": "text", "align": "left", "baseline": "middle", "fontSize": 11, "color": "#0000ff"}, "encoding": {"x": {"value": 10}, "y": {"datum": 5}, "text": {"field": "name"}}},
        {"data": {"values": [{"v": -15}, {"v": -10}, {"v": -5}, {"v": 0}, {"v": 5}, {"v": 10}, {"v": 15}, {"v": 20}, {"v": 25}]},
         "mark": {"type": "tick", "orient": "horizontal", "size": 12, "thickness": 1.5, "color": "#555555", "clip": true},
         "encoding": {"y": {"field": "v", "type": "quantitative"}, "x": {"value": "width"}}},
        {"data": {"values": [{}]}, "mark": {"type": "rect", "filled": false, "stroke": "black", "strokeWidth": 5, "clip": true}, "encoding": {"x": {"value": 0}, "x2": {"value": "width"}, "y": {"value": 0}, "y2": {"value": "height"}}},
        {"data": {"values": [{}]}, "mark": {"type": "rule", "color": "#8c8c8c", "strokeWidth": 6, "clip": true}, "encoding": {"y": {"datum": 30}}}
      ]},
     {"width": 381, "height": 89,
      "layer": [
        {"data": {"name": "curr"}, "mark": {"type": "line", "color": "#0000ff", "strokeWidth": 3, "clip": true},
         "encoding": {
           "x": {"field": "t", "type": "quantitative", "scale": {"domain": [-2.1, 195.3], "nice": false, "zero": false}, "axis": null},
           "y": {"field": "i", "type": "quantitative", "scale": {"domain": [-20, 30], "nice": false, "zero": false}, "axis": null}}},
        {"data": {"values": [{}]}, "mark": {"type": "rule", "color": "#0000ff", "strokeWidth": 3}, "encoding": {"y": {"datum": 0}}},
        {"data": {"values": [{}]}, "mark": {"type": "rect", "filled": false, "stroke": "black", "strokeWidth": 5, "clip": true}, "encoding": {"x": {"value": 0}, "x2": {"value": "width"}, "y": {"value": 0}, "y2": {"value": "height"}}},
        {"data": {"values": [{}]}, "mark": {"type": "rule", "color": "#8c8c8c", "strokeWidth": 6, "clip": true}, "encoding": {"y": {"datum": 30}}}
      ]}
   ], "spacing": 0},
   {"hconcat": [
     {"width": 127, "height": 88,
      "data": {"values": [{"top": "20.0 kAmps", "bot": "-20.0 kAmps", "name": "ENC_I"}]},
      "layer": [
        {"mark": {"type": "text", "align": "right", "baseline": "top", "dy": 3, "fontSize": 11, "color": "#3ddc00"}, "encoding": {"x": {"value": 113}, "y": {"datum": 20, "type": "quantitative", "scale": {"domain": [-20, 20], "nice": false, "zero": false}, "axis": null}, "text": {"field": "top"}}},
        {"mark": {"type": "text", "align": "right", "baseline": "bottom", "dy": -3, "fontSize": 11, "color": "#3ddc00"}, "encoding": {"x": {"value": 113}, "y": {"datum": -20}, "text": {"field": "bot"}}},
        {"mark": {"type": "text", "align": "left", "baseline": "middle", "fontSize": 11, "color": "#3ddc00"}, "encoding": {"x": {"value": 10}, "y": {"datum": 0}, "text": {"field": "name"}}},
        {"data": {"values": [{"v": -16}, {"v": -12}, {"v": -8}, {"v": -4}, {"v": 0}, {"v": 4}, {"v": 8}, {"v": 12}, {"v": 16}]},
         "mark": {"type": "tick", "orient": "horizontal", "size": 12, "thickness": 1.5, "color": "#555555", "clip": true},
         "encoding": {"y": {"field": "v", "type": "quantitative"}, "x": {"value": "width"}}},
        {"data": {"values": [{}]}, "mark": {"type": "rect", "filled": false, "stroke": "black", "strokeWidth": 5, "clip": true}, "encoding": {"x": {"value": 0}, "x2": {"value": "width"}, "y": {"value": 0}, "y2": {"value": "height"}}},
        {"data": {"values": [{}]}, "mark": {"type": "rule", "color": "#8c8c8c", "strokeWidth": 6, "clip": true}, "encoding": {"y": {"datum": 20}}}
      ]},
     {"width": 381, "height": 88,
      "layer": [
        {"data": {"name": "enc"}, "mark": {"type": "line", "color": "#19e619", "strokeWidth": 3.5, "clip": true},
         "encoding": {
           "x": {"field": "t", "type": "quantitative", "scale": {"domain": [-2.1, 195.3], "nice": false, "zero": false}, "axis": null},
           "y": {"field": "i", "type": "quantitative", "scale": {"domain": [-20, 20], "nice": false, "zero": false}, "axis": null}}},
        {"data": {"values": [{}]}, "mark": {"type": "rect", "filled": false, "stroke": "black", "strokeWidth": 5, "clip": true}, "encoding": {"x": {"value": 0}, "x2": {"value": "width"}, "y": {"value": 0}, "y2": {"value": "height"}}},
        {"data": {"values": [{}]}, "mark": {"type": "rule", "color": "#8c8c8c", "strokeWidth": 6, "clip": true}, "encoding": {"y": {"datum": 20}}}
      ]}
   ], "spacing": 0},
   {"hconcat": [
     {"width": 127, "height": 28,
      "layer": [
        {"data": {"values": [{}]}, "mark": {"type": "rect", "filled": false, "stroke": "black", "strokeWidth": 5, "clip": true}, "encoding": {"x": {"value": 0}, "x2": {"value": "width"}, "y": {"value": 0}, "y2": {"value": "height"}}},
        {"data": {"values": [{"s": "Sweep#: 1"}]}, "mark": {"type": "text", "fontSize": 11, "baseline": "middle", "dy": 2}, "encoding": {"text": {"field": "s"}}}
      ]},
     {"width": 381, "height": 28,
      "layer": [
        {"data": {"values": [{}]}, "mark": {"type": "rect", "filled": false, "stroke": "black", "strokeWidth": 5, "clip": true}, "encoding": {"x": {"value": 0}, "x2": {"value": "width"}, "y": {"value": 0}, "y2": {"value": "height"}}},
        {"data": {"values": [{"t": 0}, {"t": 20}, {"t": 40}, {"t": 60}, {"t": 80}, {"t": 100}, {"t": 120}, {"t": 140}, {"t": 160}, {"t": 180}]},
         "mark": {"type": "tick", "orient": "vertical", "size": 14, "thickness": 2, "color": "black", "clip": true},
         "encoding": {"x": {"field": "t", "type": "quantitative", "scale": {"domain": [-2.1, 195.3], "nice": false, "zero": false}, "axis": null}, "y": {"value": 0}}},
        {"data": {"values": [{"t": 0, "lab": "000.0 ms"}, {"t": 40, "lab": "040.0 ms"}, {"t": 80, "lab": "080.0 ms"}, {"t": 120, "lab": "120.0 ms"}, {"t": 160, "lab": "160.0 ms"}]},
         "mark": {"type": "text", "fontSize": 11, "baseline": "middle", "dy": 2, "clip": true},
         "encoding": {"x": {"field": "t", "type": "quantitative"}, "text": {"field": "lab"}}}
      ]}
   ], "spacing": 0},
   {"width": 508, "height": 182,
    "layer": [
      {"data": {"values": [{}]}, "mark": {"type": "rect", "filled": false, "stroke": "black", "strokeWidth": 5, "clip": true}, "encoding": {"x": {"value": 0}, "x2": {"value": "width"}, "y": {"value": 0}, "y2": {"value": "height"}}},
      {"data": {"values": [{"t": "INSTRUMENTATION DATA"}]}, "mark": {"type": "text", "fontSize": 18, "fontWeight": "bold", "baseline": "middle"}, "encoding": {"y": {"value": 22}, "text": {"field": "t"}}},
      {"data": {"values": [
        {"line": 1, "t": "Data Recording System:HBM GEN7T C/N 363-173"},
        {"line": 2, "t": "VOLTAGE:100X Scope Probe, C/N 131-505, 1%"},
        {"line": 3, "t": "VOLTAGE:100X Scope Probe, C/N 131-504, 1%"},
        {"line": 4, "t": "CURRENT:ROGOWSKI COIL, C/N 045-443"},
        {"line": 5, "t": "NOTE: Channel offset removed for analysis."}]},
       "mark": {"type": "text", "fontSize": 7.5, "fontWeight": "bold", "align": "left", "baseline": "middle"},
       "encoding": {"x": {"value": 10}, "y": {"field": "line", "type": "ordinal", "scale": {"type": "point", "range": [45, 140], "padding": 0}, "axis": null}, "text": {"field": "t"}}},
      {"data": {"values": [{"line": 6, "t": "but not for display."}]},
       "mark": {"type": "text", "fontSize": 7.5, "fontWeight": "bold", "align": "left", "baseline": "middle", "dx": 25},
       "encoding": {"x": {"value": 10}, "y": {"field": "line", "type": "ordinal"}, "text": {"field": "t"}}},
      {"data": {"values": [{"line": 2, "t": "PLOT FILE:HPL3 CR_I_M"}]},
       "mark": {"type": "text", "fontSize": 7.5, "fontWeight": "bold", "align": "left", "baseline": "middle"},
       "encoding": {"x": {"value": 261}, "y": {"field": "line", "type": "ordinal"}, "text": {"field": "t"}}}
    ]},
   {"width": 508, "height": 33,
    "layer": [
      {"data": {"values": [{}]}, "mark": {"type": "rect", "filled": false, "stroke": "black", "strokeWidth": 5, "clip": true}, "encoding": {"x": {"value": 0}, "x2": {"value": "width"}, "y": {"value": 0}, "y2": {"value": "height"}}},
      {"data": {"values": [{"t": "OSC. NO.: HPL3-30031"}]}, "mark": {"type": "text", "fontSize": 25, "fontWeight": "bold", "baseline": "middle", "dx": 52, "dy": 5, "clip": true}, "encoding": {"text": {"field": "t"}}}
    ]}
 ], "spacing": 0}
]
}
